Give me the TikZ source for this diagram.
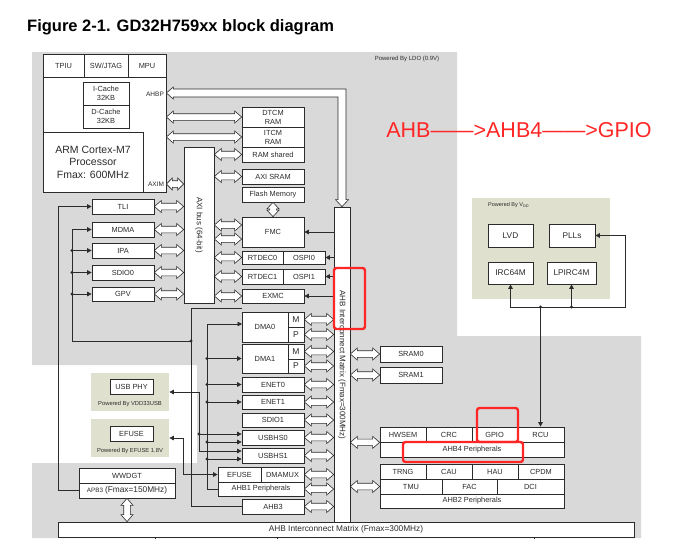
\documentclass[tikz,border=0pt]{standalone}
\usepackage{fontspec}
\setmainfont{Liberation Sans}
\usetikzlibrary{arrows.meta,calc}
\definecolor{bggray}{HTML}{D9D9D9}
\definecolor{bggreen}{HTML}{DFE1CE}
\definecolor{ln}{HTML}{2B2B2B}
\definecolor{redm}{HTML}{FF2626}
\def\hwid{6pt}
\def\swid{3.3pt}
\tikzset{
 box/.style={draw=ln, fill=white, line width=0.7pt, inner sep=0pt, align=center, text=ln, font=\fontsize{7.4}{9}\selectfont},
 harrow/.style={draw=ln, fill=white, line width=0.6pt, line join=miter},
 conn/.style={draw=ln, line width=0.7pt},
 arr/.style={-{Triangle[length=4.5pt,width=4.5pt]}},
 arrs/.style={{Triangle[length=4.5pt,width=4.5pt]}-{Triangle[length=4.5pt,width=4.5pt]}},
 redbox/.style={draw=redm, line width=2.4pt, rounded corners=2.5pt},
 lbl/.style={inner sep=0pt, text=ln},
}
\newcommand\bx[7][]{\node[box,minimum width={(#5)-(#3)},minimum height={(#6)-(#4)},#1] (#2) at ({((#3)+(#5))/2},{((#4)+(#6))/2}) {#7};}
\newcommand\hA[3][7pt]{\draw[harrow] let \p1=(#2), \p2=(#3) in (\x1,\y1) -- (\x1+#1,\y1+\hwid) -- (\x1+#1,\y1+\swid) -- (\x2-#1,\y1+\swid) -- (\x2-#1,\y1+\hwid) -- (\x2,\y1) -- (\x2-#1,\y1-\hwid) -- (\x2-#1,\y1-\swid) -- (\x1+#1,\y1-\swid) -- (\x1+#1,\y1-\hwid) -- cycle;}
\newcommand\vA[3][7pt]{\draw[harrow] let \p1=(#2), \p2=(#3) in (\x1,\y1) -- (\x1+\hwid,\y1-#1) -- (\x1+\swid,\y1-#1) -- (\x1+\swid,\y2+#1) -- (\x1+\hwid,\y2+#1) -- (\x1,\y2) -- (\x1-\hwid,\y2+#1) -- (\x1-\swid,\y2+#1) -- (\x1-\swid,\y1-#1) -- (\x1-\hwid,\y1-#1) -- cycle;}
\newcommand\jdot[1]{\fill[ln] (#1) circle (1.7pt);}
\begin{document}
\begin{tikzpicture}[x=1pt,y=-1pt]
\useasboundingbox (0,0) rectangle (695,538);
% backgrounds
\fill[bggray] (32,52) -- (457,52) -- (457,336) -- (641,336) -- (641,538) -- (32,538) -- (32,463) -- (197,463) -- (197,365) -- (32,365) -- cycle;
\bx[draw=none,fill=bggreen]{vcc}{472}{198}{610}{299}{}
\bx[draw=none,fill=bggreen]{usbg}{91}{373}{169}{411}{}
\bx[draw=none,fill=bggreen]{efg}{91}{419}{169}{457}{}
% texts
\node[anchor=west,inner sep=0pt,font=\fontsize{16.5}{17}\selectfont\bfseries] (title) at (27,27) {Figure 2-1. GD32H759xx block diagram};
\node[lbl,font=\fontsize{6}{6}\selectfont] (ldo) at (407,59) {Powered By LDO (0.9V)};
\node[inner sep=0pt,text=redm,font=\fontsize{21.5}{22}\selectfont] (note) at (519,130) {AHB——>AHB4——>GPIO};
\node[lbl,anchor=west,font=\fontsize{5.5}{6}\selectfont] (vcct) at (488,205) {Powered By V\textsubscript{DD}};
\node[lbl,font=\fontsize{5.8}{6}\selectfont] (usbt) at (130,404) {Powered By VDD33USB};
\node[lbl,font=\fontsize{5.8}{6}\selectfont] (eft) at (130,451) {Powered By EFUSE 1.8V};
% CPU
\bx{cpu}{43}{54}{166}{192}{}
\bx{tpiu}{43}{54}{84}{77}{TPIU}
\bx{swj}{84}{54}{128}{77}{SW/JTAG}
\bx{mpu}{128}{54}{166}{77}{MPU}
\bx{icache}{83}{82}{129}{105}{I-Cache\\32KB}
\bx{dcache}{83}{105}{129}{128}{D-Cache\\32KB}
\bx[font=\fontsize{10.5}{12.5}\selectfont]{arm}{43}{132}{143}{192}{ARM Cortex-M7\\Processor\\Fmax: 600MHz}
\node[lbl,font=\fontsize{6.5}{7}\selectfont] (ahbpl) at (155,94) {AHBP};
\node[lbl,font=\fontsize{6.5}{7}\selectfont] (aximl) at (156,184) {AXIM};
% memories
\bx{dtcm}{242}{107}{304}{127}{DTCM\\RAM}
\bx{itcm}{242}{127}{304}{147}{ITCM\\RAM}
\bx{ramsh}{242}{147}{304}{162}{RAM shared}
\bx{axisram}{242}{169}{304}{184}{AXI SRAM}
\bx{flash}{242}{187}{304}{202}{Flash Memory}
\bx{axibus}{184}{147}{214}{303}{}
\node[lbl,rotate=-90,font=\fontsize{8}{8}\selectfont] (axit) at (axibus.center) {AXI bus (64-bit)};
\bx{fmc}{242}{217}{304}{247}{FMC}
\bx{rtdec0}{242}{251}{283}{264}{RTDEC0}
\bx{ospi0}{283}{251}{325}{264}{OSPI0}
\bx{rtdec1}{242}{269}{283}{284}{RTDEC1}
\bx{ospi1}{283}{269}{325}{284}{OSPI1}
\bx{exmc}{242}{289}{304}{303}{EXMC}
\bx{tli}{92}{199}{154}{214}{TLI}
\bx{mdma}{92}{222}{154}{237}{MDMA}
\bx{ipa}{92}{243}{154}{258}{IPA}
\bx{sdio0}{92}{265}{154}{280}{SDIO0}
\bx{gpv}{92}{287}{154}{301}{GPV}
% DMA etc
\bx{dma0}{242}{312}{288}{342}{DMA0}
\bx[font=\fontsize{8.5}{8}\selectfont]{dma0m}{288}{312}{304}{327}{M}
\bx[font=\fontsize{8.5}{8}\selectfont]{dma0p}{288}{327}{304}{342}{P}
\bx{dma1}{242}{344}{288}{373}{DMA1}
\bx[font=\fontsize{8.5}{8}\selectfont]{dma1m}{288}{344}{304}{359}{M}
\bx[font=\fontsize{8.5}{8}\selectfont]{dma1p}{288}{359}{304}{373}{P}
\bx{enet0}{242}{377}{304}{392}{ENET0}
\bx{enet1}{242}{395}{304}{409}{ENET1}
\bx{sdio1}{242}{413}{304}{427}{SDIO1}
\bx{usbhs0}{242}{430}{304}{445}{USBHS0}
\bx{usbhs1}{242}{448}{304}{463}{USBHS1}
\bx{efuse}{218}{467}{261}{482}{EFUSE}
\bx{dmamux}{261}{467}{304}{482}{DMAMUX}
\bx{ahb1}{218}{482}{304}{496}{AHB1 Peripherals}
\bx{ahb3}{242}{499}{304}{514}{AHB3}
% interconnect
\bx{icv}{334}{207}{350}{522}{}
\node[lbl,rotate=-90,font=\fontsize{8}{8}\selectfont] (icvt) at (342,365) {AHB Interconnect Matrix (Fmax=300MHz)};
\bx[font=\fontsize{8.3}{8}\selectfont]{ich}{58}{522}{634}{537}{AHB Interconnect Matrix (Fmax=300MHz)}
% right side
\bx{sram0}{380}{346}{442}{362}{SRAM0}
\bx{sram1}{380}{367}{442}{383}{SRAM1}
\bx{hwsem}{380}{427}{426}{442}{HWSEM}
\bx{crc}{426}{427}{472}{442}{CRC}
\bx{gpio}{472}{427}{517}{442}{GPIO}
\bx{rcu}{517}{427}{564}{442}{RCU}
\bx{ahb4}{380}{442}{564}{457}{AHB4 Peripherals}
\bx{trng}{380}{464}{426}{479}{TRNG}
\bx{cau}{426}{464}{472}{479}{CAU}
\bx{hau}{472}{464}{518}{479}{HAU}
\bx{cpdm}{518}{464}{564}{479}{CPDM}
\bx{tmu}{380}{479}{442}{494}{TMU}
\bx{fac}{442}{479}{497}{494}{FAC}
\bx{dci}{497}{479}{564}{494}{DCI}
\bx{ahb2}{380}{494}{564}{508}{AHB2 Peripherals}
% Vcc domain
\bx[font=\fontsize{8.3}{8}\selectfont]{lvd}{488}{224}{533}{247}{LVD}
\bx[font=\fontsize{8.3}{8}\selectfont]{plls}{549}{224}{595}{247}{PLLs}
\bx[font=\fontsize{8.3}{8}\selectfont]{irc}{488}{262}{533}{284}{IRC64M}
\bx[font=\fontsize{8.3}{8}\selectfont]{lpirc}{547}{262}{596}{284}{LPIRC4M}
% left low
\bx{usbphy}{110}{379}{153}{394}{USB PHY}
\bx{efusebox}{110}{426}{153}{441}{EFUSE}
\bx{wwdgt}{79}{468}{175}{483}{WWDGT}
\bx{apb3}{79}{483}{175}{498}{{\fontsize{6.3}{7}\selectfont APB3} {\fontsize{8.3}{9}\selectfont (Fmax=150MHz)}}
% hollow bus arrows
\hA{cpu.east |- dtcm.west}{dtcm.west}
\hA{cpu.east |- itcm.west}{itcm.west}
\hA[6pt]{cpu.east |- 0,184}{axibus.west |- 0,184}
\hA{axibus.east |- ramsh.west}{ramsh.west}
\hA{axibus.east |- axisram.west}{axisram.west}
\vA[6.5pt]{flash.south}{fmc.north}
\hA{tli.east}{axibus.west |- tli.east}
\hA{mdma.east}{axibus.west |- mdma.east}
\hA{ipa.east}{axibus.west |- ipa.east}
\hA{sdio0.east}{axibus.west |- sdio0.east}
\hA{gpv.east}{axibus.west |- gpv.east}
\hA{axibus.east |- 0,225}{fmc.west |- 0,225}
\hA{axibus.east |- 0,239}{fmc.west |- 0,239}
\hA{axibus.east |- rtdec0.west}{rtdec0.west}
\hA{axibus.east |- rtdec1.west}{rtdec1.west}
\hA{axibus.east |- exmc.west}{exmc.west}
\foreach \bn in {dma0m,dma0p,dma1m,dma1p,enet0,enet1,sdio1,usbhs0,usbhs1,dmamux,ahb1,ahb3} {\hA{\bn.east}{icv.west |- \bn.east}}
\hA{icv.east |- sram0.west}{sram0.west}
\hA{icv.east |- sram1.west}{sram1.west}
\hA{icv.east |- hwsem.south west}{hwsem.south west}
\hA{icv.east |- tmu.west}{tmu.west}
\vA{apb3.south}{ich.north -| apb3.south}
% AHBP bent arrow
\draw[harrow] let \p1=(cpu.east |- 0,93), \p2=(icv.north) in (\x1,\y1) -- (\x1+7pt,\y1+\hwid) -- (\x1+7pt,\y1+4pt) -- (\x2+4pt,\y1+4pt) -- (\x2+4pt,\y2+7pt) -- (\x2+6.5pt,\y2+7pt) -- (\x2,\y2) -- (\x2-6.5pt,\y2+7pt) -- (\x2-4pt,\y2+7pt) -- (\x2-4pt,\y1-4pt) -- (\x1+7pt,\y1-4pt) -- (\x1+7pt,\y1-\hwid) -- cycle;
% thin connectors
\draw[conn,arr] (apb3.west) -- ++(-20,0) |- (tli.west);
\coordinate (mx) at (72,0);
\coordinate (jm) at (191,341);
\draw[conn,arr] (jm) -| (mx |- mdma.west) -- (mdma.west);
\foreach \bn in {ipa,sdio0,gpv} {\draw[conn,arr] (mx |- \bn.west) -- (\bn.west); \jdot{mx |- \bn.west}}
\coordinate (k1) at (191,308);
\coordinate (k2) at (242,308);
\draw[conn] (k2) -- (k1) |- (ahb3.west);
\jdot{jm}
\coordinate (dx) at (207,0);
\coordinate (d0) at (242,324);
\draw[conn,arr] (ahb1.west) -| (dx |- d0) -- (d0);
\foreach \bn in {dma1,enet0,enet1} {\draw[conn,arr] (dx |- \bn.west) -- (\bn.west); \jdot{dx |- \bn.west}}
\coordinate (u0a) at ([yshift=3.5pt]usbhs0.west);
\coordinate (u0b) at ([yshift=-4.5pt]usbhs0.west);
\coordinate (u1a) at ([yshift=4.5pt]usbhs1.west);
\coordinate (u1b) at ([yshift=-3.5pt]usbhs1.west);
\draw[conn,arr] (dx |- u0b) -- (u0b); \jdot{dx |- u0b}
\draw[conn,arr] (dx |- u1b) -- (u1b); \jdot{dx |- u1b}
\coordinate (ux) at (199,0);
\draw[conn,arrs] (usbg.east) -| (ux |- u1a) -- (u1a);
\draw[conn,arr] (ux |- u0a) -- (u0a); \jdot{ux |- u0a}
\coordinate (ex) at (183,0);
\draw[conn,arrs] (efg.east) -| (ex |- efuse.west) -- (efuse.west);
\draw[conn,arr] (icv.west |- fmc.east) -- (fmc.east);
\draw[conn,arr] (icv.west |- exmc.east) -- (exmc.east);
\coordinate (ox) at (329,0);
\draw[conn,arr] (icv.west |- ospi0.east) -- (ospi0.east); \jdot{ox |- ospi0.east}
\draw[conn,arr] (icv.west |- ospi1.east) -- (ospi1.east); \jdot{ox |- ospi1.east}
\coordinate (rj) at (rcu.north |- 0,307);
\coordinate (rr) at (625,307);
\draw[conn,arr] (rj) -- (rcu.north);
\draw[conn,arr] (rj) -| (irc.south);
\draw[conn,arr] (rj) -- (rr) |- (plls.east);
\draw[conn,arr] (lpirc.south |- rj) -- (lpirc.south);
\jdot{rj}
\jdot{lpirc.south |- rj}
\foreach \tx in {155,277,534} {\draw[conn] (ich.south -| \tx,0) -- (\tx,540);}
% red annotation boxes
\draw[redbox] (334,268) rectangle (365,329);
\draw[redbox] (477,408) rectangle (518,442);
\draw[redbox] (403,442) rectangle (523,462);
\end{tikzpicture}
\end{document}
